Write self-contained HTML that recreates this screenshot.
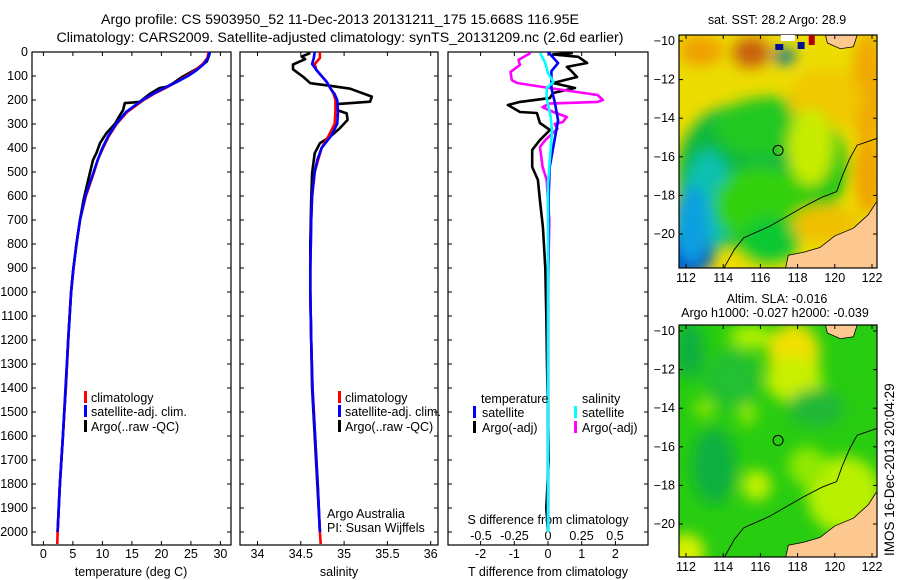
<!DOCTYPE html>
<html><head><meta charset="utf-8">
<style>
html,body{margin:0;padding:0;background:#fff;}
svg{display:block;font-family:"Liberation Sans",sans-serif;}
text{fill:#000;}
</style></head>
<body>
<svg id="root" width="900" height="580" viewBox="0 0 900 580" xmlns="http://www.w3.org/2000/svg">
<defs>
<filter id="blur10" x="-30%" y="-30%" width="160%" height="160%"><feGaussianBlur stdDeviation="7"/></filter>
<clipPath id="clipTop"><rect x="679" y="35" width="198" height="233"/></clipPath>
<clipPath id="clipBot"><rect x="679" y="325" width="198" height="232"/></clipPath>
</defs>
<text x="340" y="24" font-size="14.2" text-anchor="middle">Argo profile: CS 5903950_52 11-Dec-2013 20131211_175 15.668S 116.95E</text>
<text x="340" y="42" font-size="14.2" text-anchor="middle">Climatology: CARS2009. Satellite-adjusted climatology: synTS_20131209.nc (2.6d earlier)</text>
<g id="plots"></g>
<g id="maps"></g>
</svg>
<script>
// ---------- data ----------
const depthTicks = [0,100,200,300,400,500,600,700,800,900,1000,1100,1200,1300,1400,1500,1600,1700,1800,1900,2000];
const tempTicks = [0,5,10,15,20,25,30];
const salTicks = [34,34.5,35,35.5,36];
const salTickLabels = ["34","34.5","35","35.5","36"];
const tDiffTicks = [-2,-1,0,1,2];
const sDiffTicks = [-0.5,-0.25,0,0.25,0.5];

const climDepth = [0,25,50,75,100,125,150,175,200,250,300,350,400,450,500,600,700,800,900,1000,1200,1400,1600,1800,2000,2050];
const tClim = [28.0,27.8,27.0,25.8,24.3,22.6,20.7,18.7,17.0,14.2,12.4,11.1,10.1,9.2,8.6,7.2,6.2,5.6,5.1,4.7,4.2,3.8,3.3,2.8,2.4,2.35];
const satDepth = [0,25,50,75,100,125,150,175,200,250,300,350,400,450,500,600,700,800,900,1000,1200,1400,1600,1800,2000];
const tSat = [28.2,27.9,27.2,26.0,24.5,22.6,20.5,18.5,16.8,14.0,12.3,11.0,10.0,9.2,8.5,7.1,6.2,5.6,5.1,4.7,4.2,3.75,3.3,2.8,2.4];
const tArgoDepth = [4,20,40,70,104,130,145,150,175,208,213,242,270,297,338,380,420,450,533,617,700,804,917,1000,1200,1400,1600,1800,2000];
const tArgo = [28.2,28.0,27.7,26.0,23.5,22.0,20.9,19.7,18.0,16.3,13.8,13.5,12.8,12.2,10.7,9.6,9.0,8.4,7.6,6.8,6.2,5.6,5.0,4.7,4.2,3.8,3.3,2.8,2.4];

const sClim = [34.72,34.72,34.66,34.68,34.74,34.80,34.84,34.88,34.90,34.90,34.89,34.82,34.74,34.70,34.66,34.63,34.62,34.615,34.61,34.61,34.62,34.635,34.665,34.695,34.72,34.73];
const sSat = [34.66,34.65,34.63,34.68,34.74,34.80,34.84,34.89,34.92,34.93,34.92,34.85,34.74,34.69,34.66,34.63,34.62,34.615,34.61,34.61,34.62,34.635,34.665,34.695,34.72];
const sArgoDepth = [4,19,30,52,72,104,130,140,153,170,186,207,217,242,256,283,318,353,380,422,505,617,800,1000,1200,1400,1600,1800,2000];
const sArgo = [34.61,34.51,34.55,34.41,34.41,34.53,34.61,34.82,35.07,35.20,35.32,35.30,34.92,34.92,35.03,35.04,34.95,34.84,34.72,34.66,34.63,34.62,34.61,34.61,34.62,34.63,34.66,34.69,34.72];

const dTArgoDepth = [4,10,20,46,62,80,104,129,150,171,192,208,221,250,254,296,325,367,408,479,533,617,729,900,1100,1300,1500,1700,1900,2000];
const dTArgo = [0.74,0.15,0.9,1.16,0.56,0.7,0.86,0.15,0.8,0.15,0.05,-0.83,-1.19,-0.83,-0.33,-0.24,0.06,-0.24,-0.47,-0.47,-0.3,-0.24,-0.15,-0.08,-0.05,-0.03,0,0.02,-0.05,0];
const dTSatDepth = [0,46,80,150,208,285,400,480,600,1000,2000];
const dTSat = [0,0.3,0.1,0.1,0.2,0.3,0.15,0.05,0.02,0,0];
const dSArgoDepth = [4,33,54,83,117,129,150,179,200,208,215,230,250,271,292,300,320,367,396,479,533,700,1000,2000];
const dSArgo = [-0.13,-0.22,-0.21,-0.28,-0.27,-0.23,0.01,0.37,0.41,0.37,0.01,-0.04,0.04,0.14,0.11,0.05,0.07,-0.02,-0.06,-0.04,-0.01,0.01,0,0];
const dSSatDepth = [4,46,88,125,150,192,271,329,550,2000];
const dSSat = [-0.06,-0.02,0,0.04,-0.01,-0.01,0.02,0.03,0,0];

const mapLonTicks = [112,114,116,118,120,122];
const mapLatTicks = [-10,-12,-14,-16,-18,-20];
const argoLon = 116.95, argoLat = -15.668;

// ---------- helpers ----------
const NS = "http://www.w3.org/2000/svg";
function mk(tag, attrs, parent){const e=document.createElementNS(NS,tag);for(const k in attrs)e.setAttribute(k,attrs[k]);if(parent)parent.appendChild(e);return e;}
const plots = document.getElementById('plots');
const maps = document.getElementById('maps');
const TOP=52, BOT=545;
function yD(d){return TOP + d*0.24;}
function xT(t){return 43.4 + t*5.9;}
function xS(s){return 257.5 + (s-34)*86.6;}
function xdT(v){return 548 + v*33.7;}
function xdS(v){return 548 + v*134;}

function panel(x0,x1,name){
  const g=mk('g',{},plots);
  
  
  const r=mk('rect',{x:x0,y:TOP,width:x1-x0,height:BOT-TOP,fill:'none',stroke:'#000','stroke-width':1.2},g);
  
  
  depthTicks.forEach(d=>{
    mk('line',{x1:x0,x2:x0+4,y1:yD(d),y2:yD(d),stroke:'#000'},g);
    mk('line',{x1:x1,x2:x1-4,y1:yD(d),y2:yD(d),stroke:'#000'},g);
  });
  return g;
}
function xticks(g,vals,labels,fx,y,name){
  vals.forEach((v,i)=>{
    const x=fx(v);
    mk('line',{x1:x,x2:x,y1:BOT,y2:BOT-4,stroke:'#000'},g);
    mk('line',{x1:x,x2:x,y1:TOP,y2:TOP+4,stroke:'#000'},g);
    const t=mk('text',{x:x,y:y,'font-size':12.5,'text-anchor':'middle'},g);
    t.textContent=labels[i];
    
    
  });
}
function line(g,depths,vals,fx,color,name,w){
  const pts=depths.map((d,i)=>fx(vals[i]).toFixed(1)+','+yD(d).toFixed(1)).join(' ');
  const p=mk('polyline',{points:pts,fill:'none',stroke:color,'stroke-width':w||2.6,'stroke-linejoin':'round'},g);
  
  
}
function txt(g,x,y,s,name,anchor,size){
  const t=mk('text',{x:x,y:y,'font-size':size||12.5,'text-anchor':anchor||'start'},g);
  t.textContent=s;
  
  
  return t;
}
function legMark(g,x,y,color,name){
  const r=mk('rect',{x:x,y:y-11,width:3,height:12,fill:color},g);
  
  
}

depthTicks.forEach(d=>{ txt(plots,28,yD(d)+4,String(d),'y-tick-label','end'); });

// ---------- panel 1 temperature ----------
const p1=panel(32,231,'temperature-panel');
xticks(p1,tempTicks,tempTicks.map(String),xT,558,'temperature-tick-label');
line(p1,tArgoDepth,tArgo,xT,'#000','temperature-argo-line');
line(p1,climDepth,tClim,xT,'#f00','temperature-climatology-line');
line(p1,satDepth,tSat,xT,'#00f','temperature-satellite-line');
txt(p1,131,576,'temperature (deg C)','temperature-axis-title','middle');
legMark(p1,84,402,'#f00','legend-climatology-marker');
txt(p1,91,402,'climatology','legend-climatology');
legMark(p1,84,416,'#00f','legend-satellite-marker');
txt(p1,91,416,'satellite-adj. clim.','legend-satellite');
legMark(p1,84,431,'#000','legend-argo-marker');
txt(p1,91,431,'Argo(..raw -QC)','legend-argo');

// ---------- panel 2 salinity ----------
const p2=panel(240,438,'salinity-panel');
xticks(p2,salTicks,salTickLabels,xS,558,'salinity-tick-label');
line(p2,sArgoDepth,sArgo,xS,'#000','salinity-argo-line');
line(p2,climDepth,sClim,xS,'#f00','salinity-climatology-line');
line(p2,satDepth,sSat,xS,'#00f','salinity-satellite-line');
txt(p2,339,576,'salinity','salinity-axis-title','middle');
legMark(p2,338,402,'#f00','legend-climatology-marker');
txt(p2,345,402,'climatology','legend-climatology');
legMark(p2,338,416,'#00f','legend-satellite-marker');
txt(p2,345,416,'satellite-adj. clim.','legend-satellite');
legMark(p2,338,431,'#000','legend-argo-marker');
txt(p2,345,431,'Argo(..raw -QC)','legend-argo');
txt(p2,327,518,'Argo Australia','credit-argo-australia');
txt(p2,327,532,'PI: Susan Wijffels','credit-pi');

// ---------- panel 3 differences ----------
const p3=panel(448,648,'difference-panel');
xticks(p3,tDiffTicks,tDiffTicks.map(String),xdT,558,'t-difference-tick-label');
sDiffTicks.forEach(v=>{ txt(p3,xdS(v),540,String(v),'s-difference-tick-label','middle'); });
txt(p3,548,524,'S difference from climatology','s-difference-axis-title','middle');
txt(p3,548,576,'T difference from climatology','t-difference-axis-title','middle');
line(p3,dTArgoDepth,dTArgo,xdT,'#000','t-difference-argo-line');
line(p3,dSArgoDepth,dSArgo,xdS,'#f0f','s-difference-argo-line');
line(p3,dTSatDepth,dTSat,xdT,'#00f','t-difference-satellite-line');
line(p3,dSSatDepth,dSSat,xdS,'#0ff','s-difference-satellite-line');
txt(p3,481,403,'temperature','legend-temperature-heading');
txt(p3,582,403,'salinity','legend-salinity-heading');
legMark(p3,473,417,'#00f','legend-t-satellite-marker');
txt(p3,482,417,'satellite','legend-t-satellite');
legMark(p3,473,432,'#000','legend-t-argo-marker');
txt(p3,482,432,'Argo(-adj)','legend-t-argo');
legMark(p3,574,417,'#0ff','legend-s-satellite-marker');
txt(p3,582,417,'satellite','legend-s-satellite');
legMark(p3,574,432,'#f0f','legend-s-argo-marker');
txt(p3,582,432,'Argo(-adj)','legend-s-argo');

// ---------- maps ----------
function mapFrame(y0,y1,latY0,clip,base,blobs,name){
  const lx=lon=>686+(lon-112)*18.6;
  const ly=lat=>latY0+(-10-lat)*19.3;
  const g=mk('g',{},maps);
  
  
  const inner=mk('g',{'clip-path':'url(#'+clip+')'},g);
  mk('rect',{x:679,y:y0,width:198,height:y1-y0,fill:base},inner);
  const bl=mk('g',{filter:'url(#blur10)'},inner);
  blobs.forEach(b=>mk('ellipse',{cx:lx(b[0]),cy:ly(b[1]),rx:b[2]*18.6,ry:b[3]*19.3,fill:b[4]},bl));
  const land=[[117.3,-22],[117.5,-21.1],[118.3,-20.95],[119.2,-20.7],[120,-20.1],[121,-19.7],[121.8,-19.0],[122.2,-18.4],[122.4,-18.2],[122.4,-22]];
  const lp=mk('polygon',{points:land.map(p=>lx(p[0])+','+ly(p[1])).join(' '),fill:'#fcc890',stroke:'#000','stroke-width':0.8},inner);
  
  
  const land2=[[119.5,-9.7],[119.6,-10.1],[120.3,-10.4],[121.0,-10.3],[121.2,-9.7]];
  mk('polygon',{points:land2.map(p=>lx(p[0])+','+ly(p[1])).join(' '),fill:'#fcc890',stroke:'#000','stroke-width':0.8},inner);
  const iso=[[113.9,-22],[114.6,-20.8],[115.1,-20.2],[116.5,-19.6],[118.3,-18.6],[119.3,-18.1],[120.1,-17.8],[120.4,-17.0],[120.8,-16.1],[121.2,-15.4],[122.4,-15.0]];
  const ip=mk('polyline',{points:iso.map(p=>lx(p[0])+','+ly(p[1])).join(' '),fill:'none',stroke:'#000','stroke-width':0.9},inner);
  
  
  const c=mk('circle',{cx:lx(argoLon),cy:ly(argoLat),r:5,fill:'none',stroke:'#000','stroke-width':1},g);
  
  
  mk('rect',{x:679,y:y0,width:198,height:y1-y0,fill:'none',stroke:'#000','stroke-width':1.2},g);
  mapLonTicks.forEach(lon=>{
    const x=lx(lon);
    mk('line',{x1:x,x2:x,y1:y1,y2:y1-4,stroke:'#000'},g);
    mk('line',{x1:x,x2:x,y1:y0,y2:y0+4,stroke:'#000'},g);
    txt(g,x,y1+14,String(lon),'map-lon-tick-label','middle');
  });
  mapLatTicks.forEach(lat=>{
    const y=ly(lat);
    mk('line',{x1:679,x2:683,y1:y,y2:y,stroke:'#000'},g);
    mk('line',{x1:877,x2:873,y1:y,y2:y,stroke:'#000'},g);
    txt(g,675,y+4,String(lat).replace('-','\u2212'),'map-lat-tick-label','end');
  });
  return {g,lx,ly};
}
const sst=mapFrame(35,268,41,'clipTop','#ecdc00',[
  [116.5,-16.5,4.2,3.6,'#10c818'],[114.5,-17,3.0,3.6,'#08b840'],[116,-14.5,2.5,1.5,'#20c820'],[113.2,-18.3,1.3,2.6,'#10c0b0'],[112,-21,1.5,1.2,'#0050d0'],[112.3,-19.5,1,2,'#10a0e0'],
  [116,-18.5,2.5,2,'#30d010'],[116.5,-20.3,1.6,1.2,'#10c830'],[115.5,-10.6,1.0,0.8,'#c86010'],[112.8,-10.5,1.2,0.8,'#f0a000'],[121.8,-12.5,0.9,3,'#f0a800'],
  [121.8,-17,0.7,2,'#f0a000'],[119.5,-13,2,1.5,'#f0c800'],[119.5,-19.5,1.8,1,'#f0c000'],[117.3,-10.8,0.6,0.4,'#0070a0'],[118.7,-15.5,1.2,2,'#c8ec00']
],'sst-map');
txt(sst.g,777,24,'sat. SST: 28.2 Argo: 28.9','sst-map-title','middle');
mk('rect',{x:sst.lx(117.1),y:35,width:14,height:6,fill:'#fff'},sst.g);
mk('rect',{x:sst.lx(118.6),y:35,width:6,height:10,fill:'#b00000'},sst.g);
mk('rect',{x:sst.lx(116.8),y:44,width:8,height:6,fill:'#001090'},sst.g);
mk('rect',{x:sst.lx(118.0),y:42,width:7,height:7,fill:'#001090'},sst.g);

const sla=mapFrame(325,557,331,'clipBot','#28cc10',[
  [117.8,-11.2,1.4,1.6,'#f0e000'],[117.8,-12.5,1.5,1.2,'#c8f000'],[113.5,-17,1.2,2,'#10b040'],[112.2,-11,0.8,1.5,'#10b040'],[114.5,-12.5,1.5,1.5,'#20c030'],
  [119,-14,1.5,1,'#20b838'],[115.8,-18,0.8,0.8,'#c0f000'],[113,-14,0.5,0.5,'#90e800'],[115.3,-14.3,0.5,0.6,'#90e800'],[120.5,-18.5,2,2,'#b8f000'],
  [118.5,-17,1,1,'#90e800'],[112,-21.5,1,1,'#d8f000'],[115.5,-10.3,1.2,0.6,'#b0f000']
],'sla-map');
txt(sla.g,777,303,'Altim. SLA: -0.016','sla-map-title','middle');
txt(sla.g,775,317,'Argo h1000: -0.027 h2000: -0.039','sla-map-subtitle','middle');

const ts=txt(maps,0,0,'IMOS 16-Dec-2013 20:04:29','timestamp','start',13.5);
ts.setAttribute('transform','translate(894,556) rotate(-90)');
</script>
</body></html>
